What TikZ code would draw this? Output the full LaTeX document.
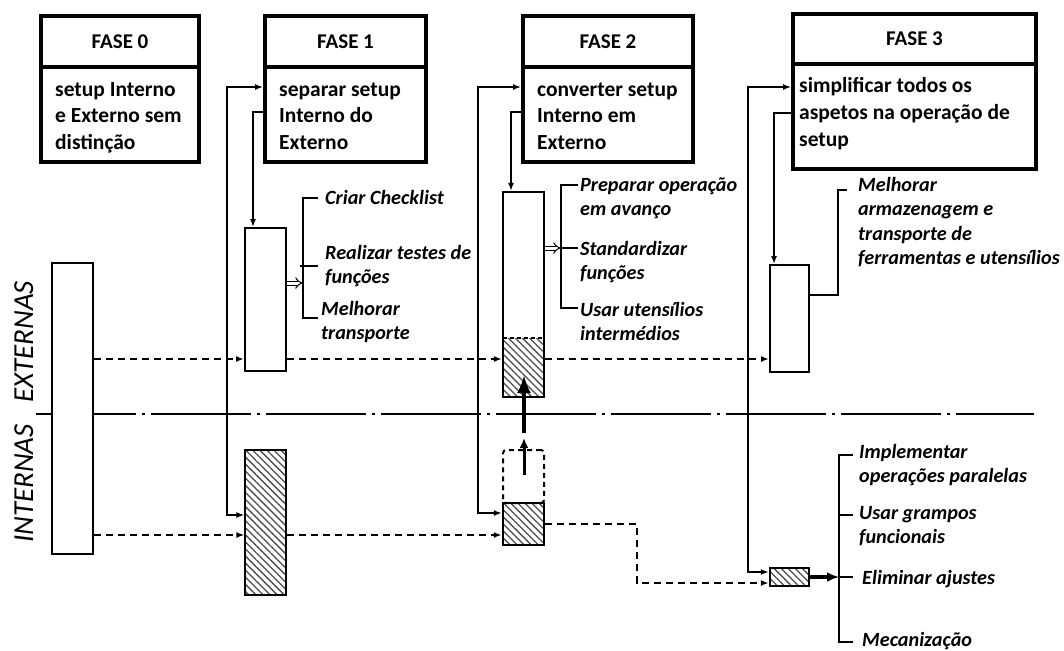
\documentclass[tikz,border=0pt]{standalone}
\usepackage{fontspec}
\setmainfont{Carlito}
\usetikzlibrary{arrows.meta,patterns.meta}

\begin{document}
\begin{tikzpicture}[x=1pt,y=-1pt,
  >={Latex[length=8pt,width=6pt]},
  phase/.style={draw,line width=4pt,inner sep=0pt,fill=white,
    font=\fontsize{21}{25}\selectfont\bfseries},
  col/.style={draw,line width=2pt,inner sep=0pt,fill=white},
  hatch/.style={draw,line width=2.5pt,inner sep=0pt,
    pattern={Lines[angle=-45,distance=5pt,line width=1.3pt]},pattern color=black!70},
  rail/.style={line width=1.5pt},
  dashline/.style={line width=1.8pt,dash pattern=on 7pt off 5pt},
  sepline/.style={line width=1.8pt,dash pattern=on 100pt off 6pt on 3pt off 6pt},
  hollow/.style={double,double distance=3pt,line width=1pt,-{Implies}},
  % multi-line texts are placed by the baseline of their last line
  btxt/.style={font=\fontsize{21.5}{26.5}\selectfont\bfseries,align=left,inner sep=0pt,anchor=base west},
  lbl/.style={font=\fontsize{20.2}{24.5}\selectfont\bfseries\itshape,align=left,inner sep=0pt,anchor=base west},
  rot/.style={font=\fontsize{29}{30}\selectfont\itshape,rotate=90,anchor=base west,inner sep=0pt}
]
\useasboundingbox (0,0) rectangle (1064,650);

% separator between external and internal operations
\coordinate (s0) at (36,414);
\coordinate (s1) at (1034,414);
\draw[sepline] (s0) -- (s1);

% side labels
\node[rot] (lint) at (33,543) {INTERNAS};
\node[rot] (lext) at (33,403) {EXTERNAS};

% phase boxes
\node[phase,minimum width=158pt,minimum height=51pt] (h0) at (120,41.5) {FASE 0};
\node[phase,minimum width=158pt,minimum height=95pt] (b0) at (120,114.5) {};
\node[phase,minimum width=161pt,minimum height=51pt] (h1) at (345.5,41.5) {FASE 1};
\node[phase,minimum width=161pt,minimum height=95pt] (b1) at (345.5,114.5) {};
\node[phase,minimum width=170pt,minimum height=51pt] (h2) at (608,41.5) {FASE 2};
\node[phase,minimum width=170pt,minimum height=95pt] (b2) at (608,114.5) {};
\node[phase,minimum width=243pt,minimum height=50pt] (h3) at (914.5,39) {FASE 3};
\node[phase,minimum width=243pt,minimum height=105pt] (b3) at (914.5,116.5) {};

\node[btxt] (t0) at (55,149) {setup Interno\\e Externo sem\\distinção};
\node[btxt] (t1) at (279,149) {separar setup\\Interno do\\Externo};
\node[btxt] (t2) at (537,149) {converter setup\\Interno em\\Externo};
\node[btxt] (t3) at (799,146) {simplificar todos os\\aspetos na operação de\\setup};

% operation columns
\node[col,minimum width=41pt,minimum height=291pt] (c0) at (72.5,408.5) {};
\node[col,minimum width=41pt,minimum height=143pt] (c1u) at (265.5,299.5) {};
\node[hatch,minimum width=41pt,minimum height=145pt] (c1l) at (265.5,522.5) {};

\node[draw=none,inner sep=0pt,minimum width=41pt,minimum height=59pt,
  pattern={Lines[angle=-45,distance=5pt,line width=1.3pt]},pattern color=black!70] (c2h) at (523.5,367.5) {};
\node[draw,line width=2.2pt,inner sep=0pt,minimum width=41pt,minimum height=205pt] (c2u) at (523.5,294.5) {};
\draw[line width=1.6pt,dash pattern=on 4pt off 3pt] (c2h.north west) -- (c2h.north east);
\node[draw,line width=2pt,dash pattern=on 5pt off 4pt,rounded corners=3pt,inner sep=0pt,
  minimum width=41pt,minimum height=53pt] (c2d) at (523.5,476.5) {};
\node[hatch,minimum width=41pt,minimum height=42pt] (c2l) at (523.5,524) {};

\node[col,minimum width=39pt,minimum height=107pt] (c3u) at (789.5,318.5) {};
\node[hatch,minimum width=39pt,minimum height=18pt] (c3l) at (789.5,577) {};

% dashed transfer lines
\coordinate (yu) at (0,359);
\coordinate (yl) at (0,535);
\draw[dashline,->] (c0.east |- yu) -- (c1u.west |- yu);
\draw[dashline,->] (c1u.east |- yu) -- (c2u.west |- yu);
\draw[dashline,->] (c2u.east |- yu) -- (c3u.west |- yu);
\draw[dashline,->] (c0.east |- yl) -- (c1l.west |- yl);
\draw[dashline,->] (c1l.east |- yl) -- (c2l.west |- yl);
\coordinate (d1) at (637,524);
\coordinate (d2) at (637,583);
\draw[dashline,->] (c2l.east |- d1) -- (d1) -- (d2) -- (c3l.west |- d2);

% phase rails
\coordinate (r1a) at (227,87);  \coordinate (r1b) at (227,515);
\draw[rail,<->] (b1.west |- r1a) -- (r1a) -- (r1b) -- (c1l.west |- r1b);
\coordinate (q1) at (253,112);
\draw[rail,->] (b1.west |- q1) -- (q1) -- (q1 |- c1u.north);

\coordinate (r2a) at (478,87);  \coordinate (r2b) at (478,513);
\draw[rail,<->] (b2.west |- r2a) -- (r2a) -- (r2b) -- (c2l.west |- r2b);
\coordinate (q2) at (511,112);
\draw[rail,->] (b2.west |- q2) -- (q2) -- (q2 |- c2u.north);

\coordinate (r3a) at (748,87);  \coordinate (r3b) at (748,572);
\draw[rail,<->] (b3.west |- r3a) -- (r3a) -- (r3b) -- (c3l.west |- r3b);
\coordinate (q3) at (774,113);
\draw[rail,->] (b3.west |- q3) -- (q3) -- (q3 |- c3u.north);

% conversion arrows in phase 2
\coordinate (m1) at (524,475);  \coordinate (m2) at (524,438);
\coordinate (m3) at (524,433);  \coordinate (m4) at (524,375);
\draw[line width=3pt,-{Latex[length=10pt,width=9pt]}] (m1) -- (m2);
\draw[line width=3.5pt,-{Latex[length=18pt,width=14pt]}] (m3) -- (m4);

% phase 1 measures
\coordinate (k1t) at (303,198);  \coordinate (k1te) at (318,198);
\coordinate (k1m) at (300,266);  \coordinate (k1me) at (318,266);
\coordinate (k1b) at (303,318);  \coordinate (k1be) at (318,318);
\coordinate (k1h) at (303,283);
\draw[rail] (k1te) -- (k1t) -- (k1b) -- (k1be);
\draw[rail] (k1m) -- (k1me);
\draw[hollow] (c1u.east |- k1h) -- (k1h);
\node[lbl] (l1a) at (325,204) {Criar Checklist};
\node[lbl] (l1b) at (325,283.5) {Realizar testes de\\funções};
\node[lbl] (l1c) at (321,339.5) {Melhorar\\transporte};

% phase 2 measures
\coordinate (k2t) at (561,185);  \coordinate (k2te) at (578,185);
\coordinate (k2m) at (561,248);  \coordinate (k2me) at (578,248);
\coordinate (k2b) at (561,308);  \coordinate (k2be) at (578,308);
\draw[rail] (k2te) -- (k2t) -- (k2b) -- (k2be);
\draw[rail] (k2m) -- (k2me);
\draw[hollow] (c2u.east |- k2m) -- (k2m);
\node[lbl] (l2a) at (580,215.5) {Preparar operação\\em avanço};
\node[lbl] (l2b) at (580,279.5) {Standardizar\\funções};
\node[lbl] (l2c) at (580,340.5) {Usar utensílios\\intermédios};

% phase 3 measures, external side
\coordinate (k3u) at (838,295);  \coordinate (k3v) at (838,190);  \coordinate (k3w) at (847,190);
\draw[rail] (c3u.east |- k3u) -- (k3u) -- (k3v) -- (k3w);
\node[lbl] (l3a) at (858,264.5) {Melhorar\\armazenagem e\\transporte de\\ferramentas e utensílios};

% phase 3 measures, internal side
\coordinate (k3t) at (839,455);  \coordinate (k3te) at (853,455);
\coordinate (k3m) at (839,515);  \coordinate (k3me) at (853,515);
\coordinate (k3e) at (839,577);  \coordinate (k3ee) at (853,577);
\coordinate (k3b) at (839,642);  \coordinate (k3be) at (853,642);
\draw[rail] (k3te) -- (k3t) -- (k3b) -- (k3be);
\draw[rail] (k3m) -- (k3me);
\draw[rail] (k3e) -- (k3ee);
\draw[line width=3.5pt,-{Latex[length=12pt,width=10pt]}] (c3l.east) -- (k3e);
\node[lbl] (l3b) at (859,482.5) {Implementar\\operações paralelas};
\node[lbl] (l3c) at (859,543.5) {Usar grampos\\funcionais};
\node[lbl] (l3d) at (862,584) {Eliminar ajustes};
\node[lbl] (l3e) at (862,646) {Mecanização};
\end{tikzpicture}
\end{document}
